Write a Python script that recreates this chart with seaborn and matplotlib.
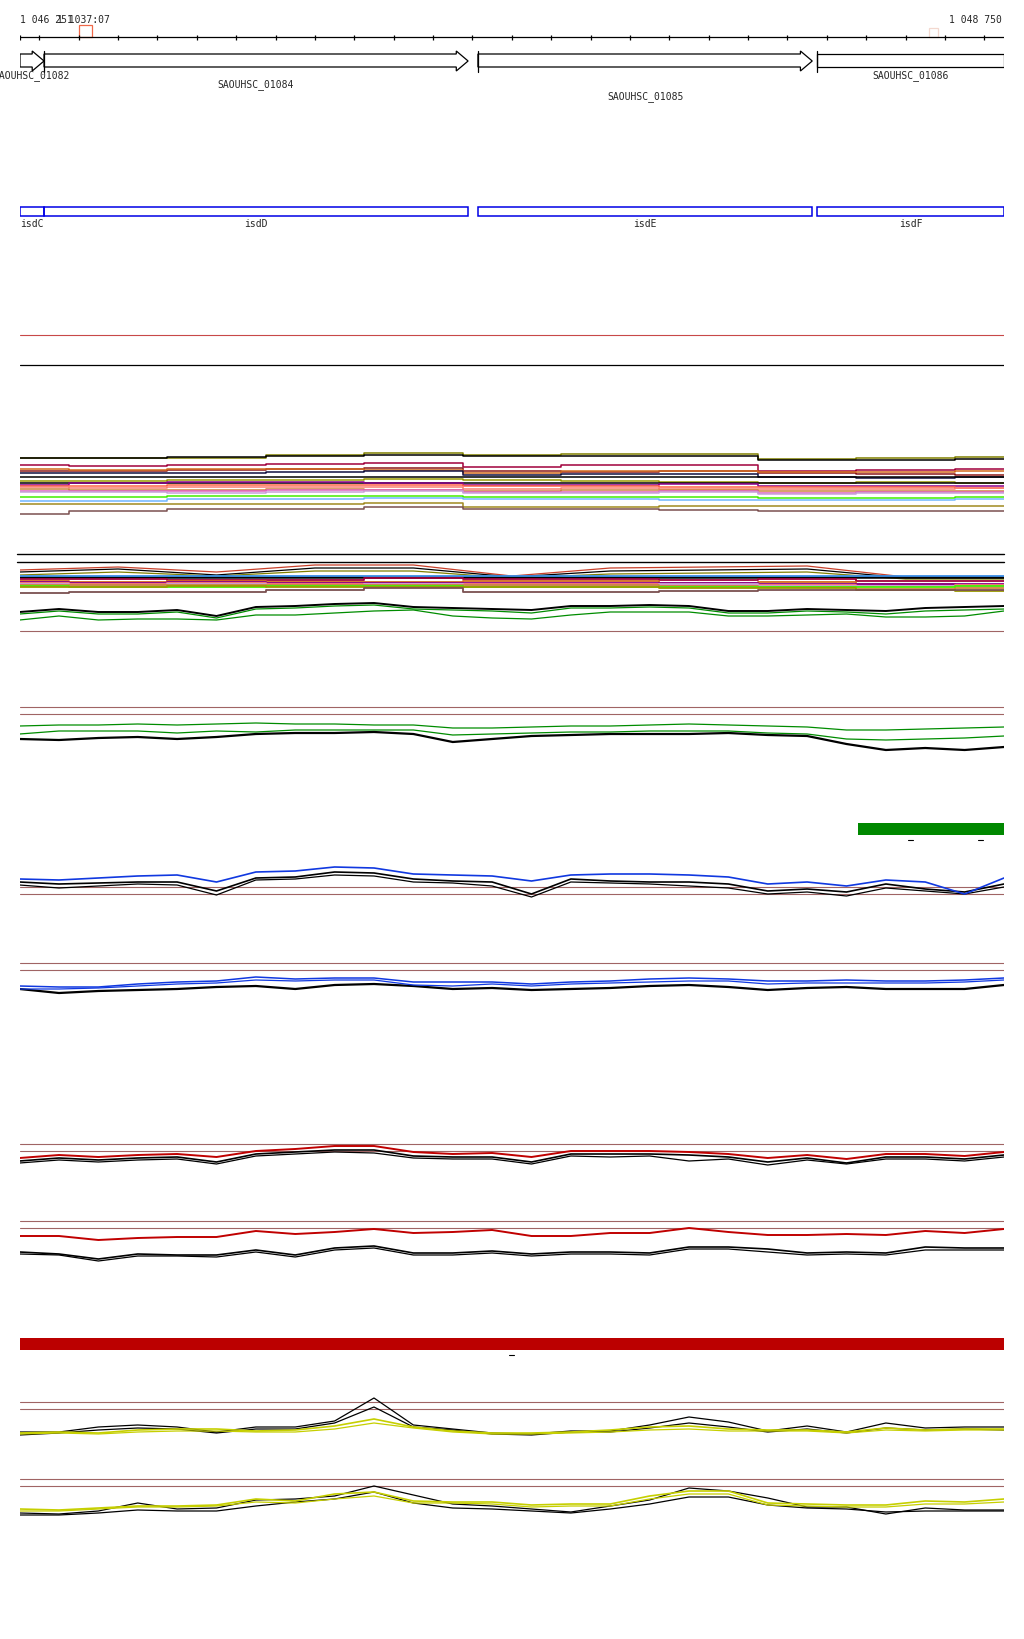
import matplotlib
matplotlib.use("Agg")
import matplotlib.pyplot as plt
from matplotlib.patches import Polygon, Rectangle
import seaborn as sns

# ---------------- data ----------------
START, END = 1046251, 1048750
RULER_TICKS = list(range(1046300, 1048751, 100))
RULER_LEFT_LABEL = "1 046 251"
RULER_OVERLAP_LABEL = "1 1037:07"
RULER_RIGHT_LABEL = "1 048 750"

GENE_IDS = ["SAOUHSC_01082", "SAOUHSC_01084", "SAOUHSC_01085", "SAOUHSC_01086"]
GENE_START = [1046251, 1046312, 1047414, 1048276]
GENE_END = [1046312, 1047389, 1048263, 1048750]
GENE_ARROW = [True, True, True, False]
GENE_NAMES = ["isdC", "isdD", "isdE", "isdF"]

GREEN_FEATURE = (1048379, 1048750)
RED_FEATURE = (1046251, 1048750)

# positions of profile samples (100 bp) and of dense-track knots (250 bp)
POS = list(range(1046250, 1048751, 100))
KNOTS = list(range(1046250, 1048751, 250))

# track A : many coloured profiles (11 knots)
DENSE_A_COLORS = ["#808000", "#000000", "#a0003c", "#8b1a1a", "#d2691e", "#101040",
                  "#000000", "#9a9a00", "#000000", "#8b008b", "#ff6347", "#fa8072",
                  "#cd853f", "#e060c0", "#c8a0d8", "#44ee00", "#6fb7ff", "#a08a20", "#7b5050"]
DENSE_A_VALUES = [
    [61, 61, 61, 64, 66, 64, 65, 65, 60, 61, 62],
    [61, 61, 62, 63, 64, 63, 63, 63, 59, 59, 60],
    [54, 53, 54, 55, 56, 52, 54, 54, 48, 49, 50],
    [48, 48, 49, 50, 51, 48, 47, 48, 46, 45, 44],
    [50, 49, 50, 50, 49, 46, 48, 48, 47, 47, 48],
    [46, 46, 46, 47, 48, 44, 45, 45, 42, 41, 42],
    [42, 42, 42, 42, 42, 42, 42, 42, 42, 42, 42],
    [38, 38, 39, 39, 40, 39, 38, 37, 36, 37, 36],
    [36, 36, 36, 36, 36, 36, 36, 36, 36, 36, 36],
    [34, 36, 37, 37, 36, 34, 34, 35, 33, 33, 33],
    [33, 33, 34, 34, 34, 33, 33, 32, 32, 32, 31],
    [32, 31, 32, 32, 32, 30, 31, 30, 30, 30, 31],
    [30, 29, 29, 30, 29, 28, 29, 29, 28, 28, 28],
    [28, 28, 28, 29, 29, 27, 27, 28, 26, 27, 27],
    [27, 27, 26, 27, 28, 26, 26, 27, 25, 26, 26],
    [22, 22, 23, 23, 23, 22, 22, 22, 21, 21, 22],
    [18, 18, 20, 20, 21, 20, 20, 19, 19, 19, 20],
    [15, 15, 15, 15, 16, 12, 12, 13, 13, 13, 13],
    [5, 8, 10, 10, 12, 10, 10, 9, 8, 8, 8],
]

# track B : coloured cluster (11 knots)
DENSE_B_COLORS = ["#c8402a", "#000000", "#808000", "#000000", "#3a8ee6", "#a0003c",
                  "#d2691e", "#8b008b", "#fa8072", "#c8a0d8", "#cd853f", "#44ee00",
                  "#9a9a00", "#7b5050"]
DENSE_B_VALUES = [
    [69, 72, 67, 74, 74, 63, 71, 72, 73, 62, 62],
    [67, 70, 64, 71, 71, 62, 68, 69, 70, 61, 61],
    [64, 67, 63, 68, 68, 61, 65, 66, 67, 60, 60],
    [62, 62, 62, 62, 62, 62, 62, 62, 62, 62, 62],
    [63, 63, 63, 63, 63, 63, 63, 63, 63, 63, 63],
    [60, 60, 59, 59, 61, 60, 60, 59, 60, 58, 58],
    [58, 57, 58, 57, 57, 58, 58, 56, 57, 55, 54],
    [57, 56, 57, 56, 56, 56, 56, 56, 55, 55, 55],
    [56, 55, 56, 55, 55, 55, 55, 54, 54, 53, 54],
    [55, 54, 55, 54, 55, 54, 54, 55, 53, 53, 53],
    [54, 54, 54, 54, 54, 54, 54, 53, 52, 50, 51],
    [53, 52, 52, 53, 53, 52, 52, 52, 52, 52, 53],
    [52, 52, 53, 52, 52, 52, 52, 51, 51, 49, 48],
    [46, 47, 47, 49, 51, 47, 47, 48, 49, 49, 49],
]
B_BLACK = [27, 30, 27, 27, 29, 23, 32, 33, 35, 36, 32, 31, 30, 29, 33, 33, 34, 33, 28, 28, 30, 29, 28, 31, 32, 33]
B_GREEN1 = [25, 28, 25, 25, 27, 21, 30, 31, 33, 34, 30, 29, 28, 26, 31, 31, 32, 31, 26, 26, 28, 27, 25, 28, 29, 30]
B_GREEN2 = [19, 23, 19, 20, 20, 19, 24, 24, 26, 28, 29, 23, 21, 20, 24, 27, 27, 27, 23, 23, 24, 25, 22, 22, 23, 28]

C_GREEN1 = [33, 34, 34, 35, 34, 35, 36, 35, 35, 34, 34, 31, 31, 32, 33, 33, 34, 35, 34, 33, 32, 29, 29, 30, 31, 32]
C_GREEN2 = [25, 28, 28, 28, 26, 28, 27, 29, 29, 29, 29, 24, 25, 26, 27, 27, 28, 28, 28, 26, 25, 20, 19, 20, 21, 23]
C_BLACK = [20, 19, 21, 22, 20, 22, 25, 26, 26, 27, 25, 17, 20, 23, 24, 25, 25, 25, 26, 24, 23, 15, 9, 11, 9, 12]

D_BLUE = [25, 24, 26, 28, 29, 22, 32, 33, 37, 36, 30, 29, 28, 23, 29, 30, 30, 29, 27, 20, 22, 18, 24, 22, 10, 26]
D_BLACK1 = [22, 20, 21, 22, 22, 13, 26, 27, 32, 31, 25, 23, 22, 10, 25, 23, 22, 22, 20, 13, 15, 12, 20, 15, 12, 20]
D_BLACK2 = [19, 16, 18, 20, 19, 9, 24, 25, 29, 28, 22, 21, 18, 7, 22, 21, 20, 18, 16, 10, 12, 8, 16, 13, 10, 17]

E_BLUE1 = [18, 17, 17, 20, 22, 23, 27, 25, 26, 26, 22, 22, 22, 20, 22, 23, 25, 26, 25, 23, 23, 24, 23, 23, 24, 26]
E_BLUE2 = [15, 15, 16, 18, 20, 21, 24, 23, 24, 24, 19, 18, 20, 18, 20, 21, 22, 23, 23, 20, 21, 21, 21, 21, 22, 24]
E_BLACK = [15, 11, 13, 14, 15, 17, 18, 15, 19, 20, 18, 15, 16, 14, 15, 16, 18, 19, 17, 14, 16, 17, 15, 15, 15, 19]

F_RED = [16, 19, 17, 19, 20, 17, 23, 25, 28, 28, 22, 20, 21, 17, 23, 23, 23, 22, 20, 16, 19, 15, 20, 20, 18, 22]
F_BLACK1 = [13, 16, 14, 16, 17, 12, 20, 22, 24, 24, 18, 17, 17, 12, 20, 20, 20, 19, 17, 12, 16, 11, 17, 17, 15, 19]
F_BLACK2 = [11, 14, 12, 14, 15, 10, 18, 20, 22, 21, 16, 15, 15, 10, 18, 17, 18, 13, 15, 9, 14, 10, 15, 15, 13, 17]

G_RED = [33, 33, 29, 31, 32, 32, 38, 35, 37, 40, 36, 37, 39, 33, 33, 36, 36, 41, 37, 34, 34, 35, 34, 38, 36, 40]
G_BLACK1 = [17, 15, 10, 15, 14, 14, 19, 14, 21, 23, 16, 16, 18, 15, 17, 17, 16, 22, 22, 20, 16, 17, 16, 22, 21, 21]
G_BLACK2 = [15, 14, 8, 13, 13, 12, 17, 12, 19, 21, 14, 14, 16, 13, 15, 15, 14, 20, 20, 17, 14, 15, 14, 19, 19, 19]

H_YELLOW1 = [16, 17, 16, 19, 20, 20, 18, 19, 23, 30, 22, 18, 16, 16, 17, 19, 22, 23, 20, 19, 19, 17, 21, 19, 20, 20]
H_YELLOW2 = [15, 16, 15, 17, 18, 18, 17, 17, 20, 26, 21, 17, 15, 15, 16, 17, 19, 20, 18, 18, 18, 16, 19, 18, 19, 19]
H_BLACK1 = [17, 17, 22, 24, 22, 17, 22, 22, 28, 51, 24, 20, 16, 15, 18, 18, 24, 32, 27, 18, 23, 17, 26, 21, 22, 22]
H_BLACK2 = [14, 16, 19, 21, 20, 16, 20, 20, 26, 42, 22, 19, 15, 14, 17, 17, 21, 26, 22, 17, 20, 16, 21, 19, 20, 19]

I_YELLOW1 = [15, 14, 16, 18, 18, 19, 25, 23, 30, 32, 23, 22, 22, 19, 20, 20, 28, 33, 33, 21, 20, 19, 19, 23, 22, 25]
I_YELLOW2 = [13, 13, 15, 17, 17, 18, 22, 21, 25, 28, 21, 21, 20, 17, 18, 18, 25, 30, 30, 19, 18, 17, 17, 20, 20, 22]
I_BLACK1 = [11, 10, 13, 21, 15, 16, 24, 25, 28, 38, 29, 20, 18, 15, 12, 18, 24, 36, 33, 26, 17, 17, 10, 16, 14, 14]
I_BLACK2 = [9, 9, 11, 14, 13, 13, 18, 22, 25, 32, 21, 16, 15, 13, 11, 15, 20, 27, 27, 19, 16, 15, 12, 13, 13, 13]

# ---------------- figure ----------------
sns.set_theme(style="white")
plt.rcParams['font.family'] = ['DejaVu Sans Mono', 'DejaVu Sans']
W, H = 1024, 1640
fig = plt.figure(figsize=(W / 100, H / 100), dpi=100)
fig.patch.set_facecolor("white")
X0, X1 = 20, 1004
REF = "#a06464"
FS = 7


def add_ax(top, bottom):
    ax = fig.add_axes([X0 / W, 1 - bottom / H, (X1 - X0) / W, (bottom - top) / H])
    ax.set_facecolor("none")
    ax.axis("off")
    return ax


def line(ax, x, y, color, lw=0.9, **kw):
    sns.lineplot(x=x, y=y, ax=ax, color=color, linewidth=lw, estimator=None,
                 sort=False, legend=False, **kw)


# background / annotation axes, rows in pixel units
bg = add_ax(0, H)
bg.set_xlim(START, END)
bg.set_ylim(H, 0)

# ruler
bg.plot([START, END], [38, 38], color="black", lw=0.9)
bg.vlines([START] + RULER_TICKS, 35.5, 40.5, color="black", lw=0.9)
bg.text(START, 20, RULER_LEFT_LABEL, fontsize=FS, ha="left", va="center")
bg.text(START + 94, 20, RULER_OVERLAP_LABEL, fontsize=FS, ha="left", va="center")
bg.text(END - 5, 20, RULER_RIGHT_LABEL, fontsize=FS, ha="right", va="center")
bg.add_patch(Rectangle((1046401, 26), 33, 12, fill=False, edgecolor="#f06848", lw=0.9))
bg.add_patch(Rectangle((1048560, 29), 22, 9, fill=False, edgecolor="#f3d8cf", lw=0.9))

# genes
HL = 30
label_rows = [76, 85, 97, 76]
for s, e, arrow, gid, row in zip(GENE_START, GENE_END, GENE_ARROW, GENE_IDS, label_rows):
    if arrow:
        pts = [(s, 55), (e - HL, 55), (e - HL, 52), (e, 62), (e - HL, 72), (e - HL, 68), (s, 68)]
    else:
        pts = [(s, 55), (e, 55), (e, 68), (s, 68)]
    bg.add_patch(Polygon(pts, closed=True, facecolor="white", edgecolor="black", lw=0.9))
    if s != START:
        bg.plot([s, s], [51.5, 72.5], color="black", lw=0.9)
    bg.text((s + e) / 2, row, gid, fontsize=FS, ha="center", va="center", clip_on=False)

# isd boxes
for s, e, name in zip(GENE_START, GENE_END, GENE_NAMES):
    bg.add_patch(Rectangle((s, 208), e - s, 9, fill=False, edgecolor="#0000e6", lw=1.1))
    bg.text((s + e) / 2, 224, name, fontsize=FS, ha="center", va="center")

# separators
bg.plot([START, END], [336, 336], color="#c84848", lw=0.8)
bg.plot([START, END], [366, 366], color="black", lw=0.9)

# feature bars
bg.add_patch(Rectangle((GREEN_FEATURE[0], 824), GREEN_FEATURE[1] - GREEN_FEATURE[0], 12,
                       facecolor="#008800", edgecolor="none"))
bg.plot([1048506, 1048519], [841, 841], color="black", lw=0.8)
bg.plot([1048684, 1048697], [841, 841], color="black", lw=0.8)
bg.add_patch(Rectangle((RED_FEATURE[0], 1339), RED_FEATURE[1] - RED_FEATURE[0], 12,
                       facecolor="#bb0000", edgecolor="none"))
bg.plot([1047493, 1047506], [1356, 1356], color="black", lw=0.8)

tracks = []

# Track A
axA = add_ax(445, 520); tracks.append((axA, 75))
for c, v in zip(DENSE_A_COLORS, DENSE_A_VALUES):
    line(axA, KNOTS, v, c, lw=1.1, drawstyle="steps-mid")

# Track B
axB = add_ax(545, 640); tracks.append((axB, 95))
axB.axhline(85, color="black", lw=1.0, xmin=-0.003, clip_on=False)
axB.axhline(77, color="black", lw=1.0, xmin=-0.003, clip_on=False)
axB.axhline(8, color=REF, lw=0.8)
for i, (c, v) in enumerate(zip(DENSE_B_COLORS, DENSE_B_VALUES)):
    if i < 3:
        line(axB, KNOTS, v, c, lw=0.9)
    elif i == 3:
        line(axB, KNOTS, v, c, lw=1.8)
    else:
        line(axB, KNOTS, v, c, lw=1.3, drawstyle="steps-mid")
line(axB, POS, B_GREEN2, "#008c00")
line(axB, POS, B_GREEN1, "#008c00")
line(axB, POS, B_BLACK, "black", lw=1.4)

# Track C
axC = add_ax(700, 760); tracks.append((axC, 60))
axC.axhline(52, color=REF, lw=0.8)
axC.axhline(45, color=REF, lw=0.8)
line(axC, POS, C_GREEN1, "#008c00")
line(axC, POS, C_GREEN2, "#008c00")
line(axC, POS, C_BLACK, "black", lw=1.6)

# Track D
axD = add_ax(855, 905); tracks.append((axD, 50))
axD.axhline(17, color=REF, lw=0.8)
axD.axhline(10, color=REF, lw=0.8)
line(axD, POS, D_BLACK2, "black")
line(axD, POS, D_BLACK1, "black", lw=1.2)
line(axD, POS, D_BLUE, "#1038e0", lw=1.2)

# Track E
axE = add_ax(955, 1005); tracks.append((axE, 50))
axE.axhline(41, color=REF, lw=0.8)
axE.axhline(34, color=REF, lw=0.8)
line(axE, POS, E_BLACK, "black", lw=1.6)
line(axE, POS, E_BLUE2, "#1038e0")
line(axE, POS, E_BLUE1, "#1038e0", lw=1.1)

# Track F
axF = add_ax(1135, 1175); tracks.append((axF, 40))
axF.axhline(30, color=REF, lw=0.8)
axF.axhline(23, color=REF, lw=0.8)
line(axF, POS, F_BLACK2, "black")
line(axF, POS, F_BLACK1, "black", lw=1.2)
line(axF, POS, F_RED, "#c00000", lw=1.4)

# Track G
axG = add_ax(1215, 1270); tracks.append((axG, 55))
axG.axhline(48, color=REF, lw=0.8)
axG.axhline(41, color=REF, lw=0.8)
line(axG, POS, G_RED, "#c00000", lw=1.4)
line(axG, POS, G_BLACK2, "black")
line(axG, POS, G_BLACK1, "black", lw=1.2)

# Track H
axH = add_ax(1390, 1450); tracks.append((axH, 60))
axH.axhline(47, color=REF, lw=0.8)
axH.axhline(40, color=REF, lw=0.8)
line(axH, POS, H_BLACK2, "black")
line(axH, POS, H_BLACK1, "black")
line(axH, POS, H_YELLOW2, "#c6cf00")
line(axH, POS, H_YELLOW1, "#c6cf00", lw=1.2)

# Track I
axI = add_ax(1470, 1525); tracks.append((axI, 55))
axI.axhline(45, color=REF, lw=0.8)
axI.axhline(38, color=REF, lw=0.8)
line(axI, POS, I_BLACK2, "black")
line(axI, POS, I_BLACK1, "black")
line(axI, POS, I_YELLOW2, "#c6cf00")
line(axI, POS, I_YELLOW1, "#c6cf00", lw=1.2)

for ax, h in tracks:
    ax.set_xlim(START, END)
    ax.set_ylim(0, h)
    ax.axis("off")

fig.savefig("out.png", dpi=100, facecolor="white")
